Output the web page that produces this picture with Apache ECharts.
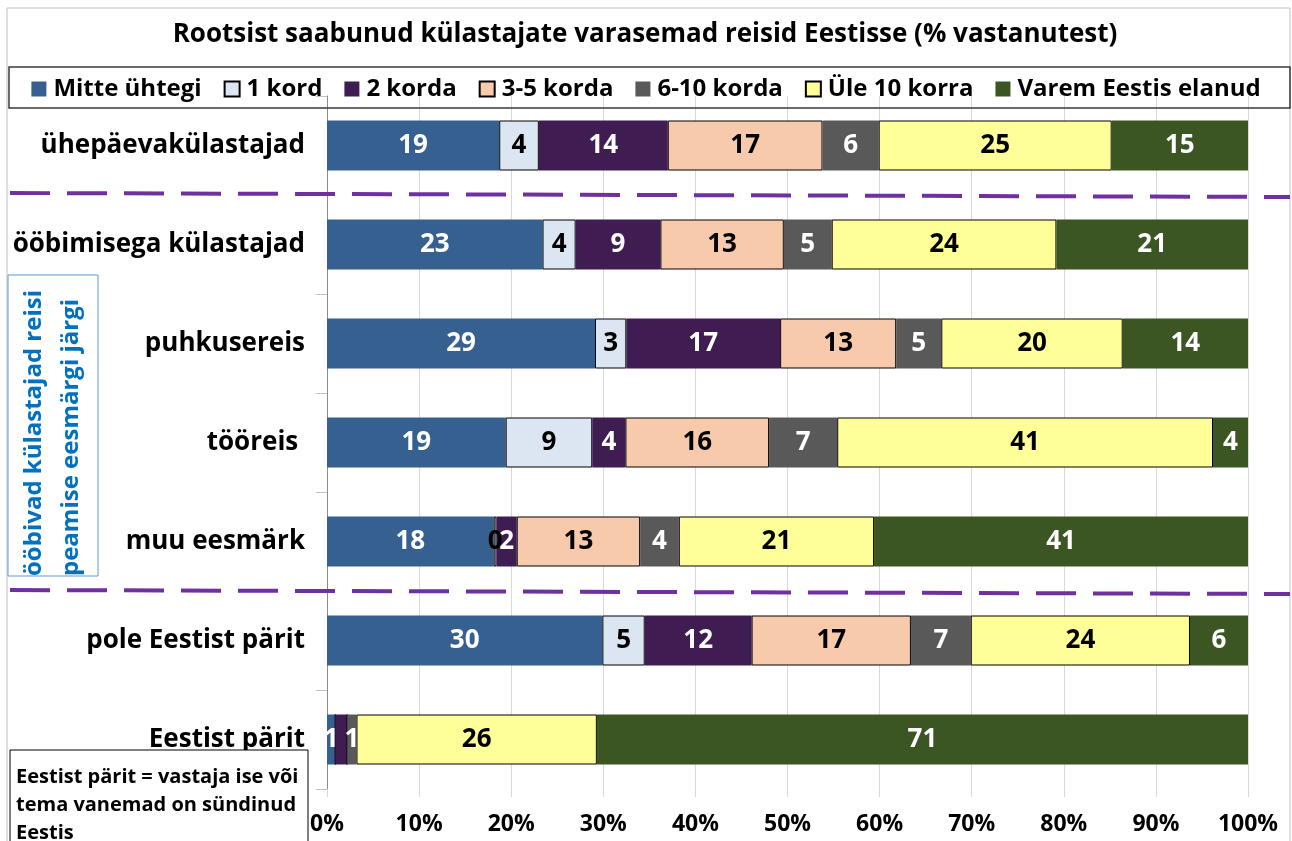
<!DOCTYPE html>
<html>
<head>
<meta charset="utf-8">
<script src="https://cdn.jsdelivr.net/npm/echarts@6/dist/echarts.min.js"></script>
<style>
  html, body { margin: 0; padding: 0; background: #fff; }
  #chart { width: 1292px; height: 841px; }
</style>
</head>
<body>
<div id="chart"></div>
<script>
// andmed (loetud jooniselt, %)
var categories = ['ühepäevakülastajad', 'ööbimisega külastajad', 'puhkusereis', 'tööreis ', 'muu eesmärk', 'pole Eestist pärit', 'Eestist pärit'];
var seriesNames = ['Mitte ühtegi', '1 kord', '2 korda', '3-5 korda', '6-10 korda', 'Üle 10 korra', 'Varem Eestis elanud'];
var mitteYhtegi = [18.7, 23.4, 29.1, 19.4, 18.1, 29.9, 0.9];
var kord1 = [4.3, 3.6, 3.4, 9.4, 0.3, 4.6, 0];
var korda2 = [14, 9.2, 16.7, 3.6, 2.2, 11.6, 1.3];
var korda3_5 = [16.8, 13.4, 12.6, 15.6, 13.4, 17.3, 0];
var korda6_10 = [6.1, 5.2, 4.9, 7.4, 4.2, 6.5, 1.0];
var yle10 = [25.3, 24.4, 19.7, 40.8, 21.2, 23.8, 26.1];
var varem = [14.8, 20.8, 13.6, 3.8, 40.6, 6.3, 70.7];
var xTicks = ['0%', '10%', '20%', '30%', '40%', '50%', '60%', '70%', '80%', '90%', '100%'];

var allValues = [mitteYhtegi, kord1, korda2, korda3_5, korda6_10, yle10, varem];
var colors = ['#36608F', '#DCE6F2', '#3F1C52', '#F8CAAC', '#595959', '#FFFF99', '#3B5623'];
var labelColors = ['#fff', '#000', '#fff', '#000', '#fff', '#000', '#fff'];
var bordered = [false, true, false, true, false, true, false];

var font = '"Open Sans", sans-serif';
var myChart = echarts.init(document.getElementById('chart'));

var series = seriesNames.map(function (name, i) {
  var data = allValues[i].map(function (v, j) {
    // viimases reas 2 korda silti pole näha
    if (i === 2 && j === 6) return {value: v, label: {show: false}};
    return v;
  });
  return {
    name: name,
    type: 'bar',
    stack: 'kokku',
    barWidth: 50,
    data: data,
    itemStyle: {
      color: colors[i],
      borderColor: bordered[i] ? '#000' : colors[i],
      borderWidth: bordered[i] ? 1 : 0
    },
    label: {
      show: true,
      position: 'inside',
      color: labelColors[i],
      fontFamily: font,
      fontWeight: 'bold',
      fontSize: 26,
      formatter: function (p) {
        return p.value === 0 ? '' : String(Math.round(p.value));
      }
    }
  };
});

var option = {
  backgroundColor: '#fff',
  animation: false,
  title: {
    text: 'Rootsist saabunud külastajate varasemad reisid Eestisse (% vastanutest)',
    left: 640,
    textAlign: 'center',
    top: 17,
    textStyle: {fontFamily: font, fontWeight: 'bold', fontSize: 26, color: '#000'}
  },
  legend: {
    data: seriesNames,
    left: 'center',
    top: 72,
    itemWidth: 15,
    itemHeight: 15,
    itemGap: 22,
    icon: 'rect',
    textStyle: {fontFamily: font, fontWeight: 'bold', fontSize: 24, color: '#000', padding: [0, 0, 0, 2]}
  },
  grid: {left: 327, right: 44, top: 96, bottom: 52},
  xAxis: {
    type: 'value',
    min: 0,
    max: 100,
    interval: 10,
    axisLine: {show: false},
    axisTick: {show: true, length: 8, lineStyle: {color: '#D9D9D9'}},
    splitLine: {lineStyle: {color: '#D9D9D9', width: 1}},
    axisLabel: {
      margin: 24,
      fontFamily: font, fontWeight: 'bold', fontSize: 23, color: '#000',
      formatter: function (v) { return xTicks[v / 10]; }
    }
  },
  yAxis: {
    type: 'category',
    inverse: true,
    data: categories,
    axisLine: {lineStyle: {color: '#8C8C8C'}},
    axisTick: {show: true, length: 11, lineStyle: {color: '#BFBFBF'}},
    axisLabel: {margin: 22, fontFamily: font, fontWeight: 'bold', fontSize: 26, color: '#000'}
  },
  series: series,
  graphic: [
    // välimine raam
    {type: 'rect', shape: {x: 7, y: 8, width: 1283, height: 840}, style: {fill: 'none', stroke: '#BFBFBF', lineWidth: 1}, z: 0},
    // legendi raam
    {type: 'rect', shape: {x: 9, y: 67, width: 1281, height: 41}, style: {fill: 'none', stroke: '#3A3A3A', lineWidth: 1.5}, z: 100},
    // katkendjooned
    {type: 'line', shape: {x1: 10, y1: 193, x2: 1290, y2: 197}, style: {stroke: '#7030A0', lineWidth: 4, lineDash: [40, 17]}, z: 100},
    {type: 'line', shape: {x1: 10, y1: 590, x2: 1290, y2: 594}, style: {stroke: '#7030A0', lineWidth: 4, lineDash: [40, 17]}, z: 100},
    // vasakpoolne tekstikast
    {type: 'rect', shape: {x: 8, y: 275, width: 90, height: 301}, style: {fill: '#fff', stroke: '#5B9BD5', lineWidth: 1}, z: 100},
    {type: 'text', x: 34, y: 576, rotation: Math.PI / 2, z: 101,
      style: {text: 'ööbivad külastajad reisi', fill: '#0070C0', font: 'bold 24px ' + font, textAlign: 'left', textVerticalAlign: 'middle'}},
    {type: 'text', x: 71, y: 576, rotation: Math.PI / 2, z: 101,
      style: {text: 'peamise eesmärgi järgi', fill: '#0070C0', font: 'bold 24px ' + font, textAlign: 'left', textVerticalAlign: 'middle'}},
    // märkuse kast
    {type: 'rect', shape: {x: 10, y: 750, width: 298, height: 100}, style: {fill: '#fff', stroke: '#000', lineWidth: 1}, z: 100},
    {type: 'text', x: 16, y: 777, z: 101,
      style: {text: 'Eestist pärit = vastaja ise või', fill: '#000', font: 'bold 20px ' + font, textAlign: 'left', textVerticalAlign: 'middle'}},
    {type: 'text', x: 16, y: 805, z: 101,
      style: {text: 'tema vanemad on sündinud', fill: '#000', font: 'bold 20px ' + font, textAlign: 'left', textVerticalAlign: 'middle'}},
    {type: 'text', x: 16, y: 833, z: 101,
      style: {text: 'Eestis', fill: '#000', font: 'bold 20px ' + font, textAlign: 'left', textVerticalAlign: 'middle'}}
  ]
};
myChart.setOption(option);
</script>
</body>
</html>
